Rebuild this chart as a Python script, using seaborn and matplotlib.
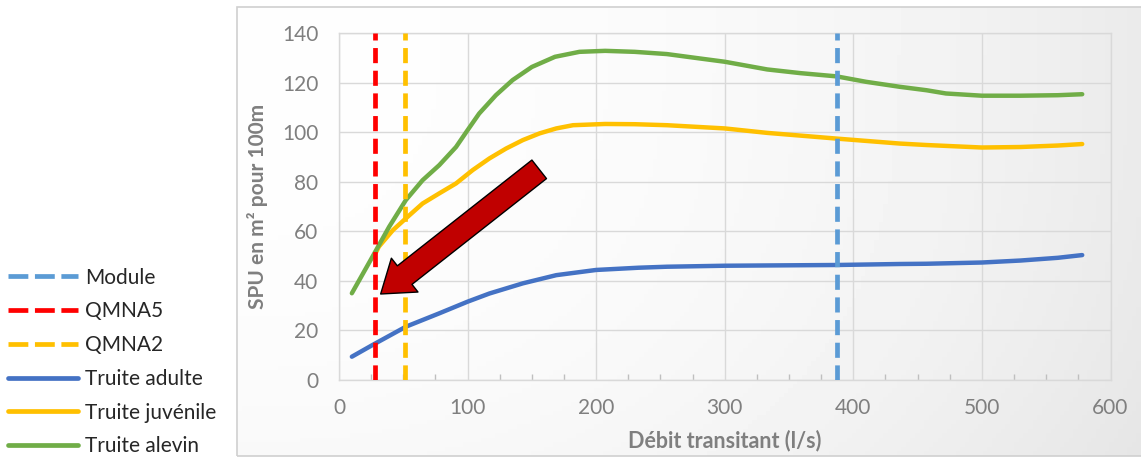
import numpy as np
import pandas as pd
import matplotlib.pyplot as plt
import seaborn as sns
from matplotlib.lines import Line2D
from matplotlib.patches import Rectangle

# Données (débit en l/s, SPU en m² pour 100 m)
debit_alevin = [10, 26, 39, 52, 65, 78, 91, 100, 109, 122, 135, 150, 168, 187, 207, 230, 255, 281, 300,
                333, 359, 387, 410, 436, 457, 472, 500, 530, 559, 578]
spu_alevin = [35, 49.7, 61.8, 72.6, 80.6, 86.7, 94, 100.8, 107.5, 114.9, 121, 126.3, 130.4, 132.4, 132.8,
              132.4, 131.5, 129.7, 128.4, 125.3, 123.8, 122.5, 120.3, 118.3, 116.9, 115.6, 114.7, 114.7,
              114.9, 115.3]

debit_juvenile = [27, 31, 42, 52, 65, 78, 91, 104, 117, 130, 143, 156, 169, 182, 207, 230, 255, 300, 333,
                  387, 436, 457, 500, 530, 559, 578]
spu_juvenile = [49.7, 53.8, 60.5, 65.2, 71.2, 75.3, 79.3, 84.7, 89.4, 93.4, 96.8, 99.5, 101.5, 102.8, 103.3,
                103.2, 102.8, 101.5, 99.7, 97.4, 95.4, 94.8, 93.8, 94, 94.6, 95.2]

debit_adulte = [10, 26, 52, 78, 100, 117, 143, 169, 200, 233, 255, 300, 387, 436, 457, 500, 530, 559, 578]
spu_adulte = [9.4, 14.1, 21.5, 26.9, 31.6, 34.9, 39, 42.3, 44.4, 45.3, 45.7, 46.1, 46.4, 46.8, 46.9, 47.4,
              48.2, 49.3, 50.4]

debits_ref = ["Module", "QMNA5", "QMNA2"]
valeurs_ref = [387, 28, 51]

couleurs_ref = ["#5B9BD5", "#FF0000", "#FFC000"]
couleurs_series = {"Truite adulte": "#4472C4", "Truite juvénile": "#FFC000", "Truite alevin": "#70AD47"}

sns.set_theme(style="white")
plt.rcParams['font.family'] = ['Lato', 'DejaVu Sans']

df = pd.concat([
    pd.DataFrame({"debit": debit_adulte, "spu": spu_adulte, "serie": "Truite adulte"}),
    pd.DataFrame({"debit": debit_juvenile, "spu": spu_juvenile, "serie": "Truite juvénile"}),
    pd.DataFrame({"debit": debit_alevin, "spu": spu_alevin, "serie": "Truite alevin"}),
], ignore_index=True)

fig = plt.figure(figsize=(11.41, 4.57), dpi=100)

# fond du cadre avec léger dégradé
bg = fig.add_axes([237 / 1141, 0.002, 1 - 237 / 1141, 0.9825], zorder=-5)
u = np.linspace(0, 1, 200)
v = np.linspace(0, 1, 100)
U, V = np.meshgrid(u, v)
grad = 0.995 - 0.075 * U ** 2.2 - 0.02 * V ** 3
bg.imshow(grad, cmap="gray", vmin=0, vmax=1, aspect="auto", extent=[0, 1, 0, 1], origin="upper")
bg.set_axis_off()
fig.patches.append(Rectangle((237 / 1141, 0.002), 1, 0.9825, transform=fig.transFigure,
                             fill=False, edgecolor="#d0d0d0", lw=1.2, zorder=-4))

ax = fig.add_axes([339 / 1141, 1 - 380 / 457, (1110.5 - 339) / 1141, 347 / 457])
ax.set_facecolor("none")

for nom, val, col in zip(debits_ref, valeurs_ref, couleurs_ref):
    ax.axvline(val, color=col, lw=3.4, dashes=(3.2, 1.6), zorder=3)

sns.lineplot(data=df, x="debit", y="spu", hue="serie", palette=couleurs_series, sort=True,
             lw=3.2, ax=ax, legend=False, zorder=2)

# flèche rouge
ax.annotate("", xy=(32.4, 34.7), xytext=(155.7, 85),
            arrowprops=dict(arrowstyle="simple,head_length=2.2,head_width=3.1,tail_width=1.7",
                            mutation_scale=10, fc="#C00000", ec="black", lw=1,
                            shrinkA=0, shrinkB=0), zorder=5)

ax.set_xlim(0, 600)
ax.set_ylim(0, 140)
ax.set_xticks(range(0, 601, 100))
ax.set_yticks(range(0, 141, 20))
ax.set_xticks(range(0, 601, 25), minor=True)
ax.grid(True, color="#d9d9d9", lw=1)
for sp in ax.spines.values():
    sp.set_color("#d9d9d9")
    sp.set_linewidth(1)
ax.tick_params(axis="both", which="major", length=0, labelsize=15, labelcolor="#7f7f7f")
ax.tick_params(axis="x", which="major", pad=13)
ax.tick_params(axis="y", which="major", pad=15)
ax.tick_params(axis="x", which="minor", direction="in", length=4, color="#bfbfbf", width=1, bottom=True)

ax.set_xlabel("Débit transitant (l/s)", fontsize=15.5, fontweight="bold", color="#7f7f7f")
ax.set_ylabel("SPU en m² pour 100m", fontsize=15, fontweight="bold", color="#7f7f7f")
ax.xaxis.set_label_coords(0.5, -0.175)
ax.xaxis.label.set_va("center")
ax.yaxis.set_label_coords(-0.105, 0.5)
ax.yaxis.label.set_va("center")

handles = [Line2D([], [], color=c, lw=3.4, dashes=(4.2, 1.4)) for c in couleurs_ref]
handles += [Line2D([], [], color=c, lw=3.4) for c in couleurs_series.values()]
labels = debits_ref + list(couleurs_series.keys())
fig.legend(handles, labels, loc="center left", bbox_to_anchor=(8 / 1141, 1 - 362 / 457),
           frameon=False, fontsize=15, handlelength=3.35, handletextpad=0.35,
           labelspacing=0.66, borderpad=0, borderaxespad=0)

plt.savefig("out.png", dpi=100)
plt.close()
